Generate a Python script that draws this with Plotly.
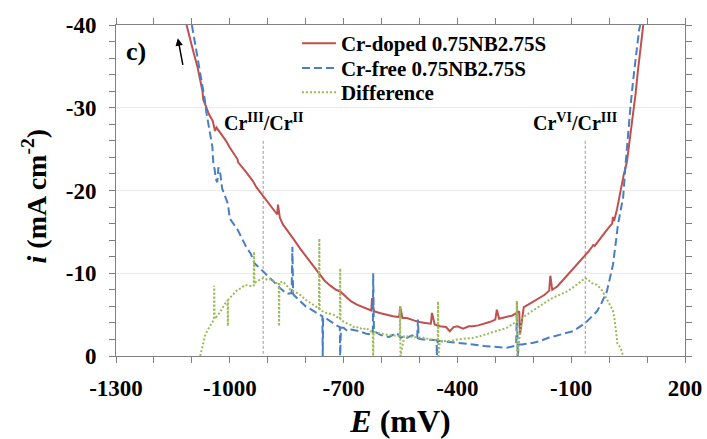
import plotly.graph_objects as go

# ---------------- data ----------------
red_x = [-1114, -1105, -1095, -1085, -1078, -1072, -1070, -1062, -1055, -1045, -1039, -1035,
         -1025, -1018, -1010, -1000, -990, -980, -978, -970, -960, -950, -940, -930, -920,
         -912, -905, -895, -885, -878, -875, -873, -868, -860, -845, -830, -815, -800, -785,
         -770, -762, -750, -735, -720, -709, -695, -680, -665, -650, -635, -627, -625, -620,
         -605, -590, -570, -553, -551, -545, -533, -515, -500, -485, -470, -467, -460, -446,
         -430, -420, -410, -400, -385, -370, -359, -345, -330, -315, -300, -296, -290, -270,
         -255, -243, -237, -235, -225, -210, -195, -182, -170, -158, -155, -150, -137, -125,
         -115, -105, -95, -85, -75, -63, -55, -45, -42, -38, -24, -10, 2, 8, 10, 13, 21, 30,
         38, 47, 55, 63, 70, 76, 83, 90]
red_y = [-40, -38.3, -36.6, -34.9, -33.4, -32.0, -31.0, -30.0, -29.2, -28.4, -27.2, -27.6,
         -27.0, -26.5, -26.0, -25.2, -24.5, -23.8, -23.4, -23.0, -22.4, -21.8, -21.2, -20.4, -19.8,
         -19.3, -18.9, -18.3, -17.7, -17.3, -17.1, -18.3, -16.7, -15.9, -15.0, -14.0, -13.0, -12.1, -11.3,
         -10.4, -9.8, -9.1, -8.5, -8.0, -7.8, -7.2, -6.6, -6.2, -5.9, -5.6, -5.5, -7.0, -5.4,
         -5.2, -5.0, -4.8, -4.7, -6.0, -4.6, -4.6, -4.3, -4.1, -4.0, -3.9, -5.2, -3.8, -3.6,
         -3.5, -3.0, -3.5, -3.6, -3.3, -3.6, -3.6, -3.7, -3.9, -4.1, -4.4, -5.6, -4.5, -4.7,
         -4.9, -5.2, -5.4, -2.6, -5.9, -6.3, -6.7, -7.0, -7.4, -7.9, -9.7, -8.0, -8.4, -9.0,
         -9.5, -10.1, -10.6, -11.1, -11.6, -12.1, -12.6, -13.2, -13.4, -13.3, -14.2, -15.0, -15.7, -16.0, -16.8, -16.3, -17.8, -20.0,
         -21.8, -23.5, -26.2, -29.0, -31.8, -34.5, -37.2, -40]

blue_x = [-1100, -1090, -1080, -1073, -1066, -1062, -1058, -1052, -1046, -1043, -1040, -1037,
          -1033, -1030, -1025, -1020, -1012, -1005, -1000, -990, -980, -970, -955, -945, -935,
          -925, -912, -900, -885, -867, -850, -837, -835, -833, -830, -815, -800, -785, -770,
          -762, -756, -755, -754, -745, -730, -715, -710, -709, -707, -700, -690, -680, -660,
          -640, -625, -623, -622, -620, -600, -580, -560, -550, -540, -533, -520, -506, -504,
          -502, -490, -470, -455, -454, -452, -446, -420, -400, -380, -359, -330, -300, -270,
          -250, -245, -243, -241, -238, -230, -200, -182, -160, -130, -110, -95, -75, -58,
          -45, -32, -20, -6, 0, 10, 17, 23, 30, 37, 43, 50, 56, 63, 70, 79, 82]
blue_y = [-40, -37.4, -34.9, -33.0, -31.0, -29.5, -28.4, -26.9, -25.3, -23.0, -22.6, -21.4,
          -21.0, -22.8, -22.0, -20.2, -19.1, -18.4, -16.6, -15.9, -15.3, -14.4, -13.0, -12.4, -11.2,
          -10.8, -10.2, -9.6, -9.0, -8.2, -7.5, -7.6, -13.2, -7.5, -7.3, -6.6, -6.0, -5.6, -5.2,
          -5.0, -4.8, 0, -4.6, -4.5, -4.0, -3.6, -3.5, 0, -3.4, -3.4, -3.0, -3.2, -3.0,
          -2.7, -2.6, -2.6, -10.0, -3.0, -2.5, -2.3, -2.8, -2.2, -2.4, -2.2, -2.5, -2.2, -4.4,
          -2.1, -2.0, -1.9, -1.9, 0, -1.9, -1.8, -1.7, -1.6, -1.5, -1.4, -1.2, -1.1, -1.0,
          -1.2, -1.3, -6.6, 0, -1.4, -1.4, -1.6, -1.8, -2.2, -2.6, -2.8, -3.0, -3.6, -4.2,
          -4.8, -5.4, -6.4, -7.8, -9.0, -11.0, -13.5, -15.8, -17.5, -19.2, -23.0, -27.0, -30.0, -33.2, -36.2, -39.4, -40]

diff_x = [-1078, -1070, -1065, -1060, -1050, -1045, -1042, -1041, -1040, -1030, -1020, -1010,
          -1006, -1005, -1004, -1000, -990, -980, -970, -960, -950, -940, -937, -936, -935, -930,
          -920, -912, -900, -890, -880, -871, -870, -869, -860, -850, -840, -830, -815, -800,
          -785, -770, -765, -764, -763, -760, -745, -727, -715, -710, -709, -708, -705, -695,
          -683, -670, -660, -650, -640, -630, -623, -622, -621, -610, -590, -570, -552, -551,
          -550, -540, -520, -505, -490, -470, -452, -451, -450, -446, -420, -400, -380, -359,
          -340, -320, -300, -270, -250, -244, -243, -242, -230, -217, -200, -180, -164, -150,
          -130, -111, -95, -80, -70, -63, -55, -45, -32, -20, -10, 2, 10, 14, 16, 18, 22, 30, 37]
diff_y = [0, -1.5, -2.5, -3.0, -3.8, -4.2, -4.4, -8.5, -4.5, -5.0, -5.8, -6.5,
          -6.7, -3.6, -6.8, -7.0, -7.4, -8.0, -8.2, -8.6, -8.5, -8.4, -8.5, -12.6, -8.7, -9.0,
          -9.2, -9.4, -9.2, -9.3, -8.8, -8.9, -3.6, -8.9, -9.0, -8.5, -8.0, -7.8, -7.4, -6.8,
          -6.3, -5.8, -5.7, -14.2, -5.6, -5.5, -5.2, -5.0, -4.6, -4.5, -10.6, -4.4, -4.3, -4.0,
          -3.8, -3.4, -3.5, -3.2, -3.4, -3.0, -3.0, 0, -2.9, -2.8, -2.6, -2.5, -2.4, -6.0,
          0, -2.4, -2.3, -2.2, -2.2, -2.0, -1.9, -6.6, 0, -1.8, -1.8, -2.0, -2.1, -2.2,
          -2.4, -2.7, -3.0, -3.4, -4.0, -4.2, -6.6, 0, -4.6, -5.0, -5.5, -6.2, -6.6, -7.0,
          -7.4, -7.8, -8.3, -8.8, -9.2, -9.4, -9.2, -8.8, -8.6, -8.0, -7.2, -6.2, -5.5, -4.5, -3.8, -2.5, -1.5, -1.0, 0]

x_tickvals = [-1300, -1000, -700, -400, -100, 200]
x_ticktext = ["-1300", "-1000", "-700", "-400", "-100", "200"]
y_tickvals = [-40, -30, -20, -10, 0]
y_ticktext = ["-40", "-30", "-20", "-10", "0"]

names = ["Cr-doped 0.75NB2.75S", "Cr-free 0.75NB2.75S", "Difference"]
marker_lines_x = [-912, -63]
label_x = [-912, -90]
label_text = ["<b>Cr<sup>III</sup>/Cr<sup>II</sup></b>", "<b>Cr<sup>VI</sup>/Cr<sup>III</sup></b>"]

FONT = "Liberation Serif"
RED = "#C0504D"
BLUE = "#4A7EC4"
GREEN = "#9BBB59"

legend_ids = ["legend", "legend2", "legend3"]
legend_y = [0.944, 0.869, 0.796]

fig = go.Figure()
fig.add_trace(go.Scatter(x=red_x, y=red_y, mode="lines", name="<b>" + names[0] + "</b>",
                         line=dict(color=RED, width=2), legend=legend_ids[0]))
fig.add_trace(go.Scatter(x=blue_x, y=blue_y, mode="lines", name="<b>" + names[1] + "</b>",
                         line=dict(color=BLUE, width=2, dash="8px,4px"), legend=legend_ids[1]))
fig.add_trace(go.Scatter(x=diff_x, y=diff_y, mode="lines", name="<b>" + names[2] + "</b>",
                         line=dict(color=GREEN, width=2, dash="2px,2px"), legend=legend_ids[2]))

for xv in marker_lines_x:
    fig.add_shape(type="line", x0=xv, x1=xv, y0=-26, y1=0, xref="x", yref="y",
                  line=dict(color="#999999", width=1, dash="3px,2px"), layer="below")

for xv, t in zip(label_x, label_text):
    fig.add_annotation(x=xv, y=-28.3, text=t, showarrow=False, xref="x", yref="y",
                       font=dict(family=FONT, size=20, color="black"))

fig.add_annotation(x=0.014, y=0.92, xref="paper", yref="paper", text="<b>c)</b>",
                   showarrow=False, xanchor="left", yanchor="middle",
                   font=dict(family=FONT, size=26, color="black"))
fig.add_annotation(x=-1137, y=-38.4, ax=-1123, ay=-35.0, xref="x", yref="y",
                   axref="x", ayref="y", text="", showarrow=True, arrowhead=2,
                   arrowsize=1, arrowwidth=1.5, arrowcolor="black")

# y-axis title placed as rotated text
fig.add_annotation(x=-0.1424, y=0.485, xref="paper", yref="paper",
                   text="<b><i>i</i> (mA cm<sup>-2</sup>)</b>", textangle=-90,
                   showarrow=False, xanchor="center", yanchor="middle",
                   font=dict(family=FONT, size=28, color="black"))

axis_common = dict(showline=True, linecolor="#808080", linewidth=1, mirror="allticks",
                   ticks="outside", ticklen=6, tickcolor="#808080", zeroline=False,
                   automargin=False,
                   tickfont=dict(family=FONT, size=23, color="black", weight="bold"))

legend_common = dict(x=0.318, xanchor="left", yanchor="middle", bgcolor="rgba(0,0,0,0)",
                     font=dict(family=FONT, size=21, color="black"), itemwidth=34,
                     borderwidth=0)

fig.update_layout(
    width=707, height=439,
    margin=dict(l=116, r=22, t=25, b=83),
    paper_bgcolor="white", plot_bgcolor="white",
    font=dict(family=FONT, color="black"),
    showlegend=True,
    legend=dict(y=legend_y[0], **legend_common),
    legend2=dict(y=legend_y[1], **legend_common),
    legend3=dict(y=legend_y[2], **legend_common),
    xaxis=dict(range=[-1300, 200], tickvals=x_tickvals, ticktext=x_ticktext,
               showgrid=False, ticklabelstandoff=5,
               minor=dict(dtick=100, tick0=-1300, ticks="outside", ticklen=6, tickcolor="#808080", showgrid=False),
               title=dict(text="<b><i>E</i> (mV)</b>", font=dict(family=FONT, size=32, color="black")),
               **axis_common),
    yaxis=dict(range=[0, -40], tickvals=y_tickvals, ticktext=y_ticktext,
               showgrid=True, gridcolor="#EBEBEB", gridwidth=1, ticklabelstandoff=8,
               minor=dict(dtick=2, tick0=0, ticks="outside", ticklen=6, tickcolor="#808080", showgrid=False),
               **axis_common),
)

fig.write_html("out.html")
